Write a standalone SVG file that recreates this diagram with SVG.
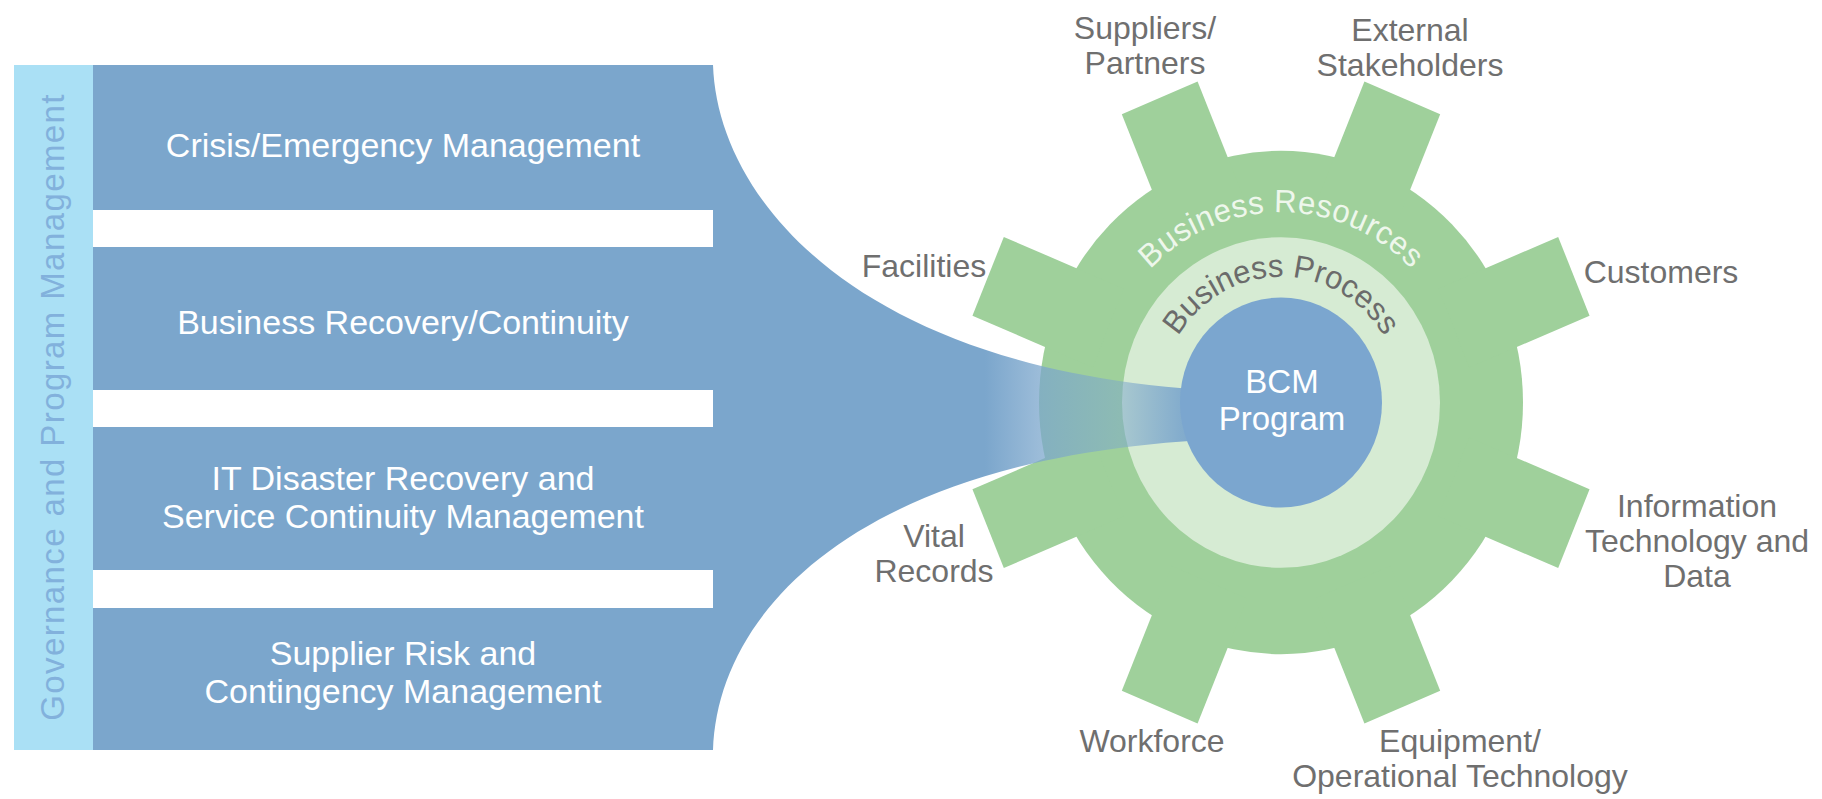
<svg xmlns="http://www.w3.org/2000/svg" xmlns:xlink="http://www.w3.org/1999/xlink" width="1822" height="799" viewBox="0 0 1822 799">
<style>
text{font-family:"Liberation Sans",Arial,sans-serif;}
.band{fill:#ffffff;font-size:34px;text-anchor:middle;}
.lbl{fill:#6f6f6f;font-size:32px;text-anchor:middle;}
.green{fill:#9fd09b;}
.gap{fill:#ffffff;}
.center{fill:#ffffff;font-size:33px;text-anchor:middle;}
</style>
<defs>
<linearGradient id="fade" gradientUnits="userSpaceOnUse" x1="900" y1="0" x2="1200" y2="0">
<stop offset="0" stop-color="#7ba6cc" stop-opacity="1"/>
<stop offset="0.283" stop-color="#7ba6cc" stop-opacity="1"/>
<stop offset="0.46" stop-color="#7ba6cc" stop-opacity="0.76"/>
<stop offset="0.733" stop-color="#7ba6cc" stop-opacity="0.5"/>
<stop offset="0.933" stop-color="#7ba6cc" stop-opacity="0.9"/>
<stop offset="1" stop-color="#7ba6cc" stop-opacity="1"/>
</linearGradient>
<path id="arcRes" d="M -183 0 A 183 183 0 0 1 183 0"/>
<path id="arcProc" d="M -121 0 A 121 121 0 0 1 121 0"/>
<rect id="tooth" x="-41" y="-317" width="82" height="130"/>
</defs>
<rect width="1822" height="799" fill="#ffffff"/>

<g id="governance">
<rect x="14" y="65" width="79" height="685" fill="#aae0f5"/>
<text transform="translate(64 407) rotate(-90)" text-anchor="middle" font-size="33" letter-spacing="1.4" fill="#82b1dc">Governance and Program Management</text>
</g>

<g id="gear" transform="translate(1281 402.5) scale(1 1.04)">
<circle r="242" class="green"/>
<use xlink:href="#tooth" class="green" transform="rotate(22.5)"/>
<use xlink:href="#tooth" class="green" transform="rotate(67.5)"/>
<use xlink:href="#tooth" class="green" transform="rotate(112.5)"/>
<use xlink:href="#tooth" class="green" transform="rotate(157.5)"/>
<use xlink:href="#tooth" class="green" transform="rotate(202.5)"/>
<use xlink:href="#tooth" class="green" transform="rotate(247.5)"/>
<use xlink:href="#tooth" class="green" transform="rotate(292.5)"/>
<use xlink:href="#tooth" class="green" transform="rotate(337.5)"/>
<text font-size="31" letter-spacing="0.5" fill="#eef7ec"><textPath xlink:href="#arcRes" startOffset="50%" text-anchor="middle">Business Resources</textPath></text>
</g>

<g id="process-ring" transform="translate(1281 402.5) scale(1 1.04)">
<circle r="159" fill="#d6ebd3"/>
<text font-size="31" fill="#6b6b6b"><textPath xlink:href="#arcProc" startOffset="50%" text-anchor="middle">Business Process</textPath></text>
</g>

<g id="connectors">
<path d="M 93 65 H 713 C 718 210, 880 392, 1281 392 V 438 C 880 438, 718 600, 713 750 H 93 Z" fill="url(#fade)"/>
</g>

<g id="bands">
<rect class="gap" x="93" y="210" width="620" height="37"/>
<rect class="gap" x="93" y="390" width="620" height="37"/>
<rect class="gap" x="93" y="570" width="620" height="38"/>
<g id="band-crisis"><text class="band" x="403" y="157">Crisis/Emergency Management</text></g>
<g id="band-business"><text class="band" x="403" y="334">Business Recovery/Continuity</text></g>
<g id="band-it"><text class="band" x="403" y="490">IT Disaster Recovery and</text><text class="band" x="403" y="528">Service Continuity Management</text></g>
<g id="band-supplier"><text class="band" x="403" y="665">Supplier Risk and</text><text class="band" x="403" y="703">Contingency Management</text></g>
</g>

<g id="bcm">
<ellipse cx="1281" cy="402.5" rx="101" ry="105" fill="#7ba6cf"/>
<text class="center" x="1282" y="393">BCM</text>
<text class="center" x="1282" y="430">Program</text>
</g>

<g id="label-suppliers"><text class="lbl" x="1145" y="39">Suppliers/</text><text class="lbl" x="1145" y="74">Partners</text></g>
<g id="label-external"><text class="lbl" x="1410" y="41">External</text><text class="lbl" x="1410" y="76">Stakeholders</text></g>
<g id="label-customers"><text class="lbl" x="1661" y="283">Customers</text></g>
<g id="label-it"><text class="lbl" x="1697" y="517">Information</text><text class="lbl" x="1697" y="552">Technology and</text><text class="lbl" x="1697" y="587">Data</text></g>
<g id="label-equipment"><text class="lbl" x="1460" y="752">Equipment/</text><text class="lbl" x="1460" y="787">Operational Technology</text></g>
<g id="label-workforce"><text class="lbl" x="1152" y="752">Workforce</text></g>
<g id="label-vital"><text class="lbl" x="934" y="547">Vital</text><text class="lbl" x="934" y="582">Records</text></g>
<g id="label-facilities"><text class="lbl" x="924" y="277">Facilities</text></g>
</svg>
